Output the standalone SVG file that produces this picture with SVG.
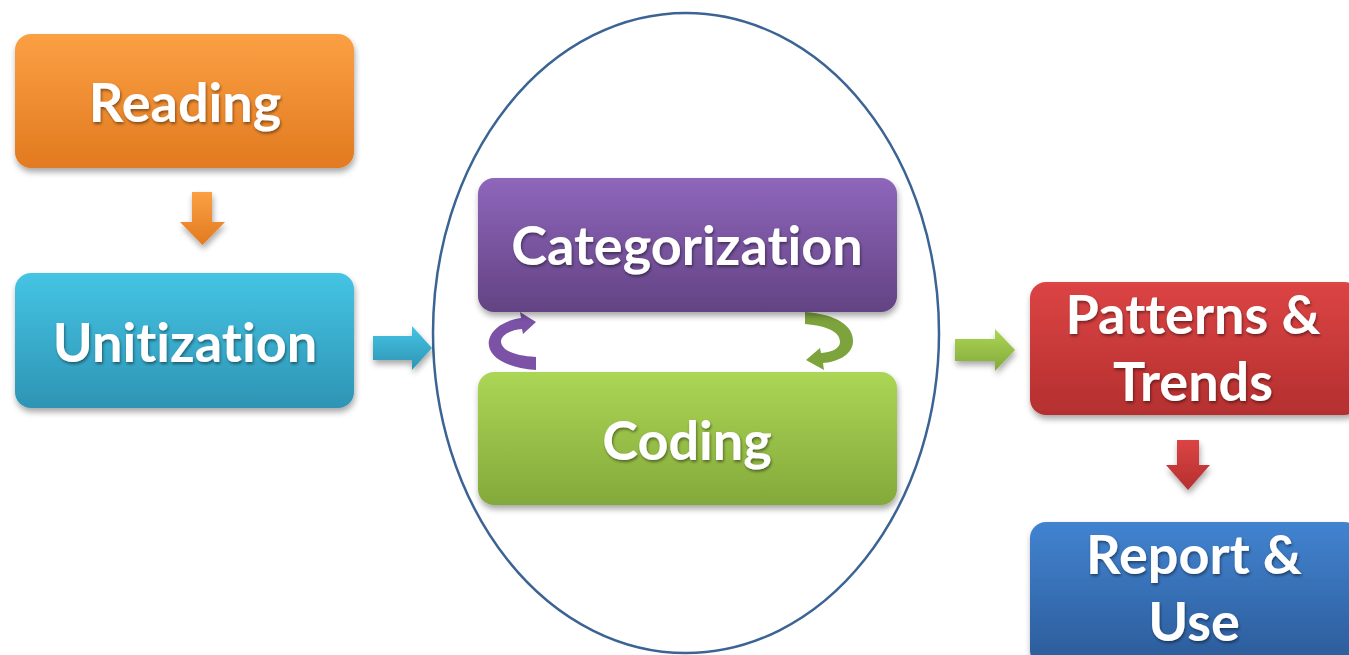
<svg xmlns="http://www.w3.org/2000/svg" width="1349" height="655" viewBox="0 0 1349 655">
<defs>
<filter id="sh" x="-10%" y="-10%" width="120%" height="130%"><feGaussianBlur in="SourceAlpha" stdDeviation="3"/><feOffset dx="1" dy="4"/><feComponentTransfer><feFuncA type="linear" slope="0.35"/></feComponentTransfer><feMerge><feMergeNode/><feMergeNode in="SourceGraphic"/></feMerge></filter>
<filter id="tsh" x="-10%" y="-20%" width="120%" height="140%"><feGaussianBlur in="SourceAlpha" stdDeviation="1.5"/><feOffset dx="1" dy="2"/><feComponentTransfer><feFuncA type="linear" slope="0.45"/></feComponentTransfer><feMerge><feMergeNode/><feMergeNode in="SourceGraphic"/></feMerge></filter>
<linearGradient id="gO" x1="0" y1="0" x2="0" y2="1"><stop offset="0" stop-color="#fba043"/><stop offset="1" stop-color="#e27a20"/></linearGradient>
<linearGradient id="gB" x1="0" y1="0" x2="0" y2="1"><stop offset="0" stop-color="#45c4e4"/><stop offset="1" stop-color="#2e94b4"/></linearGradient>
<linearGradient id="gP" x1="0" y1="0" x2="0" y2="1"><stop offset="0" stop-color="#8e66bb"/><stop offset="1" stop-color="#634383"/></linearGradient>
<linearGradient id="gG" x1="0" y1="0" x2="0" y2="1"><stop offset="0" stop-color="#abd655"/><stop offset="1" stop-color="#84a93b"/></linearGradient>
<linearGradient id="gR" x1="0" y1="0" x2="0" y2="1"><stop offset="0" stop-color="#dc4444"/><stop offset="1" stop-color="#b52f2f"/></linearGradient>
<linearGradient id="gU" x1="0" y1="0" x2="0" y2="1"><stop offset="0" stop-color="#4283d0"/><stop offset="1" stop-color="#2b5b99"/></linearGradient>
</defs>
<style>
.box{filter:url(#sh)}
.t{font-family:Lato,"Open Sans","Liberation Sans",sans-serif;font-weight:bold;font-size:54px;fill:#fff;text-anchor:middle;font-variant-ligatures:none;filter:url(#tsh)}
</style>
<ellipse cx="686" cy="333" rx="253" ry="320" fill="none" stroke="#3b6494" stroke-width="2.5"/>
<g id="connectors">
<path class="box" d="M192 192 H212 V222 H225 L202.5 245 L180 222 H192 Z" fill="url(#gO)"/>
<path class="box" d="M373 336 H412 V326 L432 348 L412 370 V360 H373 Z" fill="url(#gB)"/>
<path class="box" d="M955 339 H995 V329 L1015 350 L995 371 V361 H955 Z" fill="url(#gG)"/>
<path class="box" d="M1177 440 H1199 V465 H1210 L1188 490 L1166 465 H1177 Z" fill="url(#gR)"/>
<path d="M536 370 C504 368 486 355 489 340 C492 327 507 320 521 318 L520 312 L536 322 L523 334 L522 329 C510 330 502 335 501 341 C501 350 514 356 536 357 Z" fill="#7b52a6"/>
<path d="M805 312 C836 314 854 326 853 342 C852 356 836 362 823 363 L824 370 L806 360 L820 348 L821 353 C833 352 840 348 840 342 C840 332 828 326 805 324 Z" fill="#7da33c"/>
</g>
<g id="reading"><rect class="box" x="15" y="34" width="339" height="134" rx="16" fill="url(#gO)"/><text class="t" x="185" y="122">Reading</text></g>
<g id="unitization"><rect class="box" x="15" y="273" width="339" height="135" rx="16" fill="url(#gB)"/><text class="t" x="185" y="362">Unitization</text></g>
<g id="categorization"><rect class="box" x="478" y="178" width="419" height="134" rx="16" fill="url(#gP)"/><text class="t" x="687" y="265">Categorization</text></g>
<g id="coding"><rect class="box" x="478" y="372" width="419" height="133" rx="16" fill="url(#gG)"/><text class="t" x="687" y="460">Coding</text></g>
<g id="patterns"><rect class="box" x="1030" y="282" width="330" height="133" rx="16" fill="url(#gR)"/><text class="t" x="1193" y="334">Patterns &amp;</text><text class="t" x="1193" y="401">Trends</text></g>
<g id="report"><rect class="box" x="1030" y="522" width="330" height="145" rx="16" fill="url(#gU)"/><text class="t" x="1194" y="574">Report &amp;</text><text class="t" x="1194" y="641">Use</text></g>
</svg>
